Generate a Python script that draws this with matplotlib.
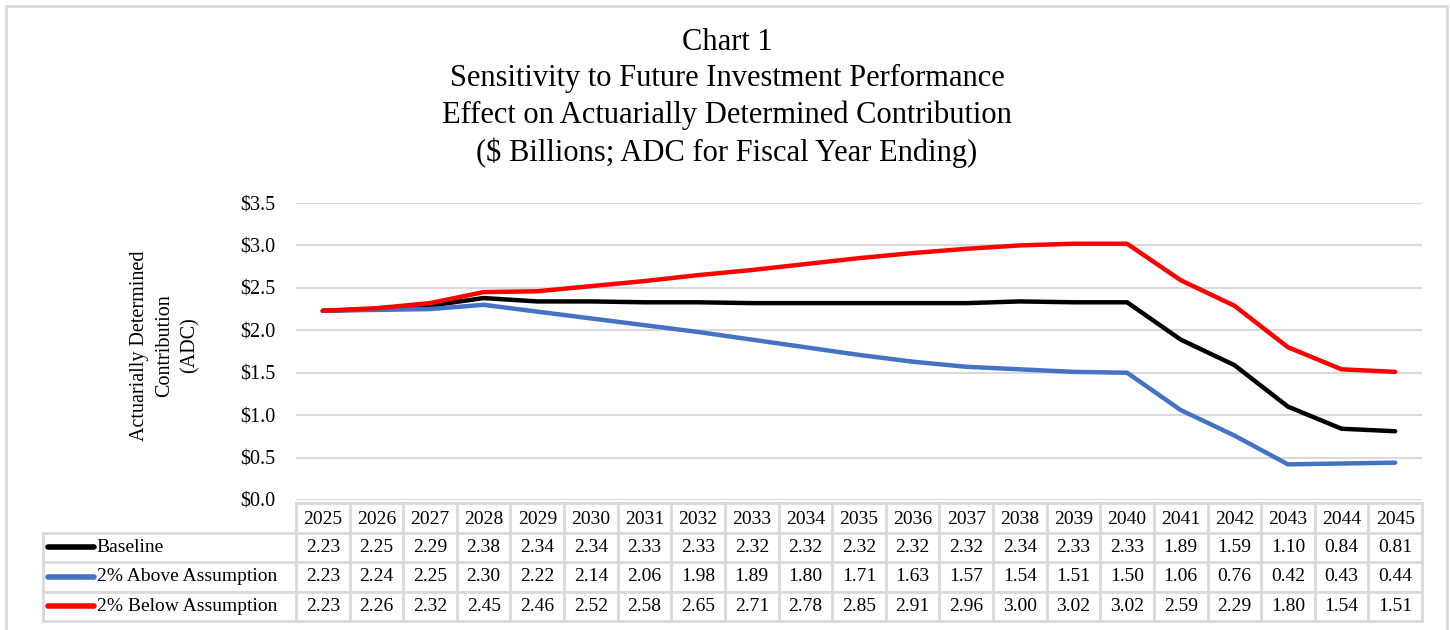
import matplotlib
matplotlib.use("Agg")
import matplotlib.pyplot as plt
from matplotlib.patches import Rectangle

plt.rcParams['font.family'] = ['Liberation Serif', 'DejaVu Serif']

years = [2025, 2026, 2027, 2028, 2029, 2030, 2031, 2032, 2033, 2034, 2035,
         2036, 2037, 2038, 2039, 2040, 2041, 2042, 2043, 2044, 2045]
baseline = [2.23, 2.25, 2.29, 2.38, 2.34, 2.34, 2.33, 2.33, 2.32, 2.32, 2.32,
            2.32, 2.32, 2.34, 2.33, 2.33, 1.89, 1.59, 1.10, 0.84, 0.81]
above = [2.23, 2.24, 2.25, 2.30, 2.22, 2.14, 2.06, 1.98, 1.89, 1.80, 1.71,
         1.63, 1.57, 1.54, 1.51, 1.50, 1.06, 0.76, 0.42, 0.43, 0.44]
below = [2.23, 2.26, 2.32, 2.45, 2.46, 2.52, 2.58, 2.65, 2.71, 2.78, 2.85,
         2.91, 2.96, 3.00, 3.02, 3.02, 2.59, 2.29, 1.80, 1.54, 1.51]

series_names = ['Baseline', '2% Above Assumption', '2% Below Assumption']
series_colors = ['#000000', '#4472C4', '#FF0000']
series = [baseline, above, below]

W, H = 1450, 630
fig = plt.figure(figsize=(W / 100, H / 100), dpi=100)

grid_col = '#d9d9d9'
fig.patches.append(Rectangle((6 / W, -0.05), (1447 - 6) / W, 1 - 6 / H + 0.05,
                             transform=fig.transFigure, fill=False,
                             edgecolor=grid_col, linewidth=2))

fig.text(727 / W, 1 - 28 / H,
         "Chart 1\nSensitivity to Future Investment Performance\n"
         "Effect on Actuarially Determined Contribution\n"
         "($ Billions; ADC for Fiscal Year Ending)",
         ha='center', va='top', fontsize=22, linespacing=1.33)

# main plot
left, right = 296 / W, 1422 / W
ax = fig.add_axes([left, 1 - 500 / H, right - left, (500 - 203) / H])
x = list(range(len(years)))
for vals, col in zip(series, series_colors):
    ax.plot(x, vals, color=col, linewidth=3.2, solid_capstyle='round', zorder=3)
ax.set_xlim(-0.5, len(years) - 0.5)
ax.set_ylim(0, 3.5)
ax.set_yticks([0, 0.5, 1.0, 1.5, 2.0, 2.5, 3.0, 3.5])
ax.set_yticklabels(['${:.1f}'.format(v) for v in ax.get_yticks()], fontsize=14.5)
ax.yaxis.grid(True, color=grid_col, linewidth=1.5)
ax.set_axisbelow(True)
ax.set_xticks([])
ax.tick_params(axis='y', length=0, pad=15)
for s in ax.spines.values():
    s.set_visible(False)
ax.set_ylabel("Actuarially Determined\nContribution\n(ADC)", fontsize=14.5,
              linespacing=1.45, va='center')
ax.yaxis.set_label_coords((165 - 296) / (1422 - 296), 0.52)

# data table below the plot, sharing the x positions
tax = fig.add_axes([left, 1 - 621 / H, right - left, (621 - 503) / H])
tax.set_xlim(-0.5, len(years) - 0.5)
tax.set_ylim(4, 0)
tax.axis('off')
lab_left = -0.5 - (296 - 43) / 53.6
lw = 2
# header row
for i, yr in enumerate(years):
    tax.text(i, 0.55, str(yr), ha='center', va='center', fontsize=14)
tax.plot([-0.5, len(years) - 0.5], [0, 0], color=grid_col, lw=lw, clip_on=False)
for i in range(len(years) + 1):
    tax.plot([i - 0.5, i - 0.5], [0, 1], color=grid_col, lw=lw, clip_on=False)
# data rows
for r, (name, col, vals) in enumerate(zip(series_names, series_colors, series)):
    y0 = r + 1
    tax.plot([lab_left, len(years) - 0.5], [y0, y0], color=grid_col, lw=lw, clip_on=False)
    tax.plot([lab_left + 0.1, lab_left + 0.95], [y0 + 0.5, y0 + 0.5], color=col,
             lw=4, solid_capstyle='round', clip_on=False)
    tax.text(lab_left + 1.0, y0 + 0.5, name, ha='left', va='center', fontsize=14,
             clip_on=False)
    for i, v in enumerate(vals):
        tax.text(i, y0 + 0.5, '{:.2f}'.format(v), ha='center', va='center', fontsize=14)
tax.plot([lab_left, len(years) - 0.5], [4, 4], color=grid_col, lw=lw, clip_on=False)
for xv in [lab_left] + [i - 0.5 for i in range(len(years) + 1)]:
    tax.plot([xv, xv], [1, 4], color=grid_col, lw=lw, clip_on=False)

fig.savefig('out.png', dpi=100)
